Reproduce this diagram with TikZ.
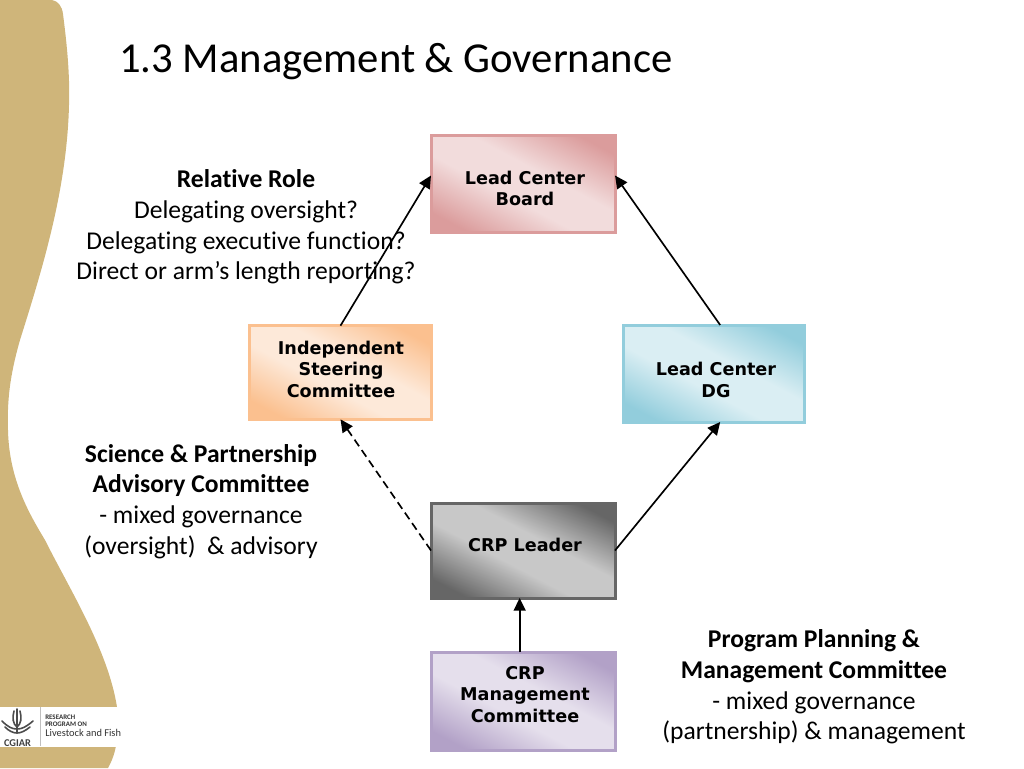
\documentclass[tikz,border=0pt]{standalone}
\usepackage{fontspec}
\setmainfont[RawFeature=-liga]{Carlito}
\newfontfamily\boxfont{DejaVu Sans}
\usetikzlibrary{arrows.meta}
\definecolor{sidegold}{HTML}{CFB57A}
\newcommand{\declareglow}[3]{%
  \pgfdeclarehorizontalshading{#1}{100bp}{color(0bp)=(#2); color(23bp)=(#2); color(43bp)=(#3); color(57bp)=(#3); color(77bp)=(#2); color(100bp)=(#2)}}
\definecolor{boardedge}{HTML}{DB9C9C}
\definecolor{boardfill}{HTML}{F2DCDC}
\definecolor{steeredge}{HTML}{FBC08F}
\definecolor{steerfill}{HTML}{FDE9D9}
\definecolor{dgedge}{HTML}{92CDDC}
\definecolor{dgfill}{HTML}{DAEEF3}
\definecolor{leaderedge}{HTML}{666666}
\definecolor{leaderfill}{HTML}{C8C8C8}
\definecolor{cmteedge}{HTML}{B2A1C7}
\definecolor{cmtefill}{HTML}{E5DFEC}
\declareglow{boardglow}{boardedge}{boardfill}
\declareglow{steerglow}{steeredge}{steerfill}
\declareglow{dgglow}{dgedge}{dgfill}
\declareglow{leaderglow}{leaderedge}{leaderfill}
\declareglow{cmteglow}{cmteedge}{cmtefill}
\tikzset{
  roleBox/.style={draw=#1edge, shading=#1glow, shading angle=62, line width=2.25pt, outer sep=0pt,
    minimum width=138pt, minimum height=72.75pt},
  boxText/.style={align=center, inner sep=0pt, font=\boxfont\bfseries\fontsize{13.2}{16.1}\selectfont},
  note/.style={align=center, font=\fontsize{19.2}{23}\selectfont},
  link/.style={line width=1.25pt, -{Triangle[length=9.5pt,width=9pt]}}
}
\begin{document}
\begin{tikzpicture}[x=0.75pt,y=-0.75pt]
    \useasboundingbox (0,0) rectangle (1024,768);
    % side band
    \fill[sidegold] (0,0) -- (52,0) .. controls (58,1) and (62,6) .. (63,14)
        .. controls (67,45) and (70,75) .. (69,105)
        .. controls (67,190) and (42,270) .. (20,340)
        .. controls (10,375) and (7,400) .. (8,430)
        .. controls (9,480) and (30,515) .. (45,540)
        .. controls (70,590) and (108,650) .. (117,707)
        .. controls (119,735) and (117,752) .. (108,768) -- (0,768) -- cycle;
    % logo
    \fill[white] (0,707) rectangle (119,747);
    \draw[gray!50, line width=0.6pt] (40,707) -- (40,746);
    \draw[black!70, line width=1.2pt, line cap=round]
        (17,709) -- (17,733)
        (14,711) .. controls (12,718) and (13,724) .. (17,727)
        (20,711) .. controls (22,718) and (21,724) .. (17,727)
        (2,721) .. controls (8,727) and (12,729) .. (17,729)
        (33,721) .. controls (26,727) and (22,729) .. (17,729)
        (5,727) .. controls (9,731) and (13,733) .. (17,733)
        (30,727) .. controls (25,731) and (21,733) .. (17,733);
    \node[font=\bfseries\fontsize{7.8}{7.8}\selectfont, inner sep=0pt, black!75] (cgiar) at (17.5,743) {CGIAR};
    \node[font=\bfseries\fontsize{5.2}{5.3}\selectfont, align=left, anchor=west, inner sep=0pt, black!80] (research) at (45,721) {RESEARCH\\PROGRAM ON};
    \node[font=\fontsize{7.8}{7.8}\selectfont, anchor=west, inner sep=0pt, black!80] (fish) at (45,733) {Livestock and Fish};
    % title
    \node[anchor=west, inner sep=0pt, font=\fontsize{32}{38}\selectfont] (title) at (119,62) {1.3 Management \& Governance};
    % boxes
    \node[roleBox=board] (board) at (523,183.5) {};
    \node[roleBox=steer, minimum width=136.5pt, minimum height=70.25pt] (steering) at (340.5,372.5) {};
    \node[roleBox=dg, minimum width=135.75pt] (dg) at (713.5,373.5) {};
    \node[roleBox=leader, minimum height=71.25pt] (leader) at (523,550.5) {};
    \node[roleBox=cmte, minimum height=73.75pt] (cmte) at (523,701.5) {};
    \node[boxText] (boardtext) at (525,188.5) {Lead Center\\Board};
    \node[boxText] (steeringtext) at (341,369) {Independent\\Steering\\Committee};
    \node[boxText] (dgtext) at (716,380) {Lead Center\\DG};
    \node[boxText] (leadertext) at (525,544.5) {CRP Leader};
    \node[boxText] (cmtetext) at (525,694.5) {CRP\\Management\\Committee};
    % notes
    \node[note] (role) at (246,227) {\textbf{Relative Role}\\Delegating oversight?\\Delegating executive function?\\Direct or arm’s length reporting?};
    \node[note] (science) at (201,501.5) {\textbf{Science \& Partnership}\\\textbf{Advisory Committee}\\- mixed governance\\(oversight)\ \ \& advisory};
    \node[note] (planning) at (814,687) {\textbf{Program Planning \&}\\\textbf{Management Committee}\\- mixed governance\\(partnership) \& management};
    % links
    \draw[link] (steering.north) -- ([yshift=6pt]board.west);
    \draw[link] ([xshift=5pt]dg.north) -- ([yshift=6pt]board.east);
    \draw[link] (leader.east) -- ([xshift=5pt]dg.south);
    \draw[link, dash pattern=on 6pt off 3.5pt] (leader.west) -- (steering.south);
    \draw[link] ([xshift=-2.5pt]cmte.north) -- ([xshift=-2.5pt]leader.south);
\end{tikzpicture}
\end{document}
